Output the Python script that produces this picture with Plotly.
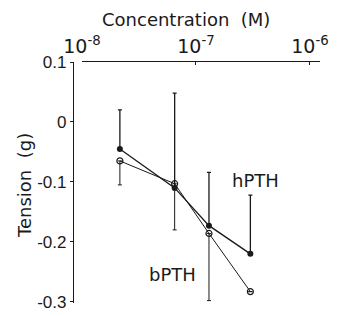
import plotly.graph_objects as go

# Data
conc = [2.15e-8, 6.5e-8, 1.3e-7, 3.0e-7]
hpth = [-0.045, -0.11, -0.173, -0.22]
hpth_err_up = [0.065, 0.158, 0.089, 0.098]
bpth = [-0.065, -0.103, -0.186, -0.283]
bpth_err_down = [0.04, 0.077, 0.112, 0.0]
baseline = -0.066
x_ticks = [1e-8, 1e-7, 1e-6]
x_tick_text = ["10<sup>-8</sup>", "10<sup>-7</sup>", "10<sup>-6</sup>"]
y_ticks = [0.1, 0, -0.1, -0.2, -0.3]
y_tick_text = ["0.1", "0", "-0.1", "-0.2", "-0.3"]

ink = "#1a1a1a"
fig = go.Figure()

fig.add_trace(go.Scatter(
    x=conc, y=bpth, mode="lines+markers",
    line=dict(color=ink, width=1),
    marker=dict(symbol="circle-open", size=6, color=ink, line=dict(width=1.2)),
    error_y=dict(type="data", symmetric=False, array=[0] * len(bpth),
                 arrayminus=bpth_err_down, color=ink, thickness=1, width=2),
    cliponaxis=False, showlegend=False))

fig.add_trace(go.Scatter(
    x=conc, y=hpth, mode="lines+markers",
    line=dict(color=ink, width=1.3),
    marker=dict(symbol="circle", size=6, color=ink),
    error_y=dict(type="data", symmetric=False, array=hpth_err_up,
                 arrayminus=[0] * len(hpth), color=ink, thickness=1.3, width=2),
    cliponaxis=False, showlegend=False))

# baseline arrow at the y axis
fig.add_trace(go.Scatter(
    x=[10 ** (-8.045)], y=[baseline], mode="markers",
    marker=dict(symbol="triangle-left", size=7, color=ink),
    cliponaxis=False, showlegend=False))

fig.update_layout(
    width=345, height=316,
    margin=dict(l=65, r=33, t=54, b=17),
    paper_bgcolor="white", plot_bgcolor="white",
    font=dict(family="Liberation Sans, Arial, sans-serif", size=16, color=ink),
    xaxis=dict(type="log", range=[-8, -5.912], domain=[0.0364, 1],
               side="top", showline=True, linecolor=ink, linewidth=1.3,
               tickvals=x_ticks, ticktext=x_tick_text,
               ticks="inside", ticklen=3, tickcolor=ink,
               showgrid=False, zeroline=False, anchor="y",
               tickfont=dict(family="DejaVu Sans", size=19)),
    yaxis=dict(range=[-0.302, 0.1], anchor="free", position=0,
               showline=True, linecolor=ink, linewidth=1.3,
               tickvals=y_ticks, ticktext=y_tick_text,
               ticks="outside", ticklen=3, tickcolor=ink,
               showgrid=False, zeroline=False,
               tickfont=dict(size=17)),
    annotations=[
        dict(text="Concentration  (M)", xref="paper", yref="paper",
             x=0.4575, y=1.1755, showarrow=False,
             font=dict(family="DejaVu Sans", size=18, color=ink),
             xanchor="center", yanchor="middle"),
        dict(text="Tension  (g)", xref="paper", yref="paper",
             x=-0.194, y=0.486, showarrow=False, textangle=-90,
             font=dict(family="DejaVu Sans", size=18, color=ink),
             xanchor="center", yanchor="middle"),
        dict(text="hPTH", xref="paper", yref="paper",
             x=(255 - 73) / 247, y=(307 - 182) / 245, showarrow=False,
             font=dict(family="DejaVu Sans", size=18, color=ink),
             xanchor="center", yanchor="middle"),
        dict(text="bPTH", xref="paper", yref="paper",
             x=(172 - 73) / 247, y=(307 - 278) / 245, showarrow=False,
             font=dict(family="DejaVu Sans", size=18, color=ink),
             xanchor="center", yanchor="middle"),
    ],
)

fig.write_html("out.html")
